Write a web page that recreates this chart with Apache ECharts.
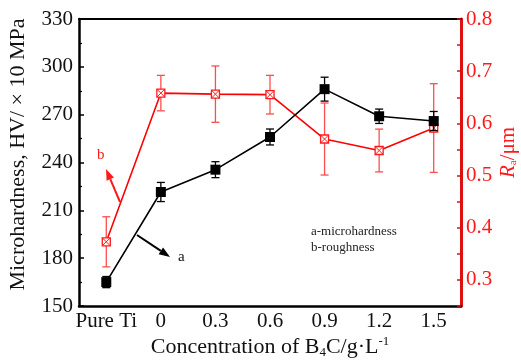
<!DOCTYPE html>
<html>
<head>
<meta charset="utf-8">
<script src="https://cdn.jsdelivr.net/npm/echarts@6/dist/echarts.min.js"></script>
<style>
  html, body { margin: 0; padding: 0; background: #fff; }
  #chart { width: 521px; height: 363px; }
</style>
</head>
<body>
<div id="chart"></div>
<script>
// B4C concentration groups
const categories = ['Pure Ti', '0', '0.3', '0.6', '0.9', '1.2', '1.5'];

// Microhardness (HV / x10 MPa) and its error
const hardness = [165, 221.5, 235.5, 256, 286, 269, 266];
const hardnessErr = [3.5, 6, 5, 5, 7.5, 4.5, 6];

// Surface roughness Ra (µm) and its error
const roughness = [0.373, 0.658, 0.656, 0.655, 0.570, 0.548, 0.591];
const roughnessErr = [0.048, 0.034, 0.054, 0.037, 0.069, 0.041, 0.085];

const FONT = 'Liberation Serif';
const RED = '#ff1a1a';

const chart = echarts.init(document.getElementById('chart'), null, { renderer: 'canvas' });

function errData(vals, errs) {
  return vals.map((v, i) => [i, v, v - errs[i], v + errs[i]]);
}

// error bar with caps plus a marker at the mean
function makeRenderer(opts) {
  return function (params, api) {
    const c = api.coord([api.value(0), api.value(1)]);
    const lo = api.coord([api.value(0), api.value(2)]);
    const hi = api.coord([api.value(0), api.value(3)]);
    const cap = 4;
    const children = [
      { type: 'line', shape: { x1: c[0], y1: lo[1], x2: c[0], y2: hi[1] }, style: { stroke: opts.bar, lineWidth: 1.3 } },
      { type: 'line', shape: { x1: c[0] - cap, y1: lo[1], x2: c[0] + cap, y2: lo[1] }, style: { stroke: opts.bar, lineWidth: 1.3 } },
      { type: 'line', shape: { x1: c[0] - cap, y1: hi[1], x2: c[0] + cap, y2: hi[1] }, style: { stroke: opts.bar, lineWidth: 1.3 } }
    ];
    const s = opts.size / 2;
    if (opts.crossed) {
      children.push(
        { type: 'rect', shape: { x: c[0] - s, y: c[1] - s, width: 2 * s, height: 2 * s }, style: { fill: '#fff', stroke: opts.mark, lineWidth: 1.3 } },
        { type: 'line', shape: { x1: c[0] - s, y1: c[1] - s, x2: c[0] + s, y2: c[1] + s }, style: { stroke: opts.mark, lineWidth: 1 } },
        { type: 'line', shape: { x1: c[0] - s, y1: c[1] + s, x2: c[0] + s, y2: c[1] - s }, style: { stroke: opts.mark, lineWidth: 1 } }
      );
    } else {
      children.push({ type: 'rect', shape: { x: c[0] - s, y: c[1] - s, width: 2 * s, height: 2 * s }, style: { fill: opts.mark } });
    }
    return { type: 'group', children: children };
  };
}

// arrow annotation: shaft + filled head
function arrow(x1, y1, x2, y2, color) {
  const dx = x2 - x1, dy = y2 - y1;
  const len = Math.sqrt(dx * dx + dy * dy);
  const ux = dx / len, uy = dy / len;
  const hl = 11, hw = 4;
  const bx = x2 - hl * ux, by = y2 - hl * uy;
  return [
    { type: 'line', shape: { x1: x1, y1: y1, x2: bx, y2: by }, style: { stroke: color, lineWidth: 2 } },
    { type: 'polygon', shape: { points: [[x2, y2], [bx - hw * uy, by + hw * ux], [bx + hw * uy, by - hw * ux]] }, style: { fill: color } }
  ];
}

const option = {
  animation: false,
  backgroundColor: '#fff',
  grid: { left: 79, right: 60, top: 19, bottom: 57, containLabel: false, outerBoundsMode: 'none' },
  xAxis: [
    {
      type: 'category', data: categories, position: 'bottom', boundaryGap: true,
      axisLine: { lineStyle: { color: '#000', width: 2.5 } },
      axisTick: { inside: true, alignWithLabel: true, length: 5, interval: (i) => i % 2 === 0, lineStyle: { color: '#000', width: 1.5 } },
      axisLabel: { fontFamily: FONT, fontSize: 21, color: '#111', margin: 5, interval: 0 },
      splitLine: { show: false },
      name: 'Concentration of B{sub|4}C/g·L{sup|-1}',
      nameLocation: 'middle', nameGap: 29, nameMoveOverlap: false,
      nameTextStyle: {
        fontFamily: FONT, fontSize: 22, color: '#111', lineHeight: 24,
        rich: {
          sub: { fontFamily: FONT, fontSize: 13, color: '#111', verticalAlign: 'bottom', lineHeight: 18, padding: [6, 0, 0, 0] },
          sup: { fontFamily: FONT, fontSize: 13, color: '#111', verticalAlign: 'top', lineHeight: 14 }
        }
      }
    },
    {
      type: 'category', data: categories, position: 'top', boundaryGap: true,
      axisLine: { lineStyle: { color: '#000', width: 2 } },
      axisTick: { inside: true, alignWithLabel: true, length: 3, lineStyle: { color: '#000', width: 1.2 } },
      axisLabel: { show: false }, splitLine: { show: false }
    },
    {
      type: 'category', data: categories, position: 'bottom', boundaryGap: true,
      axisLine: { show: false },
      axisTick: { inside: true, alignWithLabel: true, length: 3, interval: (i) => i % 2 === 1, lineStyle: { color: '#000', width: 1.2 } },
      axisLabel: { show: false }, splitLine: { show: false }
    }
  ],
  yAxis: [
    {
      type: 'value', position: 'left', min: 150, max: 330, interval: 30,
      axisLine: { show: true, lineStyle: { color: '#000', width: 2.5 } },
      axisTick: { show: true, inside: true, length: 5, lineStyle: { color: '#000', width: 1.5 } },
      minorTick: { show: true, splitNumber: 2, length: 3, lineStyle: { color: '#000', width: 1.2 } },
      axisLabel: { fontFamily: FONT, fontSize: 21, color: '#111', margin: 6 },
      splitLine: { show: false },
      name: 'Microhardness, HV/ × 10 MPa',
      nameLocation: 'middle', nameGap: 50, nameMoveOverlap: false,
      nameTextStyle: { fontFamily: FONT, fontSize: 22, color: '#111', padding: [0, 0, 0, 16] }
    },
    {
      type: 'value', position: 'right', min: 0.25, max: 0.8, interval: 0.05,
      axisLine: { show: true, lineStyle: { color: '#dd1111', width: 3 } },
      axisTick: { show: true, inside: true, length: 4, lineStyle: { color: '#dd1111', width: 1.5 } },
      axisLabel: {
        fontFamily: FONT, fontSize: 21, color: RED, margin: 5,
        formatter: (v) => {
          const k = Math.round(v * 100);
          return k % 10 === 0 ? (k / 100).toFixed(1) : '';
        }
      },
      splitLine: { show: false },
      name: '{it|R}{sub|a}/μm',
      nameLocation: 'middle', nameGap: 36, nameMoveOverlap: false,
      nameTextStyle: {
        fontFamily: FONT, fontSize: 21, color: RED, padding: [0, 0, 0, 20], lineHeight: 22,
        rich: {
          it: { fontFamily: FONT, fontSize: 21, color: RED, fontStyle: 'italic', lineHeight: 22 },
          sub: { fontFamily: FONT, fontSize: 11, color: RED, verticalAlign: 'bottom', lineHeight: 22 }
        }
      }
    }
  ],
  series: [
    {
      name: 'roughness', type: 'line', xAxisIndex: 0, yAxisIndex: 1,
      data: roughness, symbol: 'none',
      lineStyle: { color: '#ff0000', width: 1.6 }, z: 2
    },
    {
      name: 'roughness-err', type: 'custom', xAxisIndex: 0, yAxisIndex: 1,
      data: errData(roughness, roughnessErr),
      renderItem: makeRenderer({ bar: '#ff4d4d', mark: '#ff1a1a', size: 8, crossed: true }),
      z: 3
    },
    {
      name: 'hardness', type: 'line', xAxisIndex: 0, yAxisIndex: 0,
      data: hardness, symbol: 'none',
      lineStyle: { color: '#000', width: 1.6 }, z: 4
    },
    {
      name: 'hardness-err', type: 'custom', xAxisIndex: 0, yAxisIndex: 0,
      data: errData(hardness, hardnessErr),
      renderItem: makeRenderer({ bar: '#000', mark: '#000', size: 10, crossed: false }),
      z: 5
    }
  ],
  graphic: [
    { type: 'text', left: 311, top: 225, style: { text: 'a-microhardness', font: '13px "Liberation Serif"', fill: '#222' } },
    { type: 'text', left: 311, top: 241, style: { text: 'b-roughness', font: '13px "Liberation Serif"', fill: '#222' } },
    { type: 'text', left: 178, top: 250, style: { text: 'a', font: '15px "Liberation Serif"', fill: '#111' } },
    { type: 'text', left: 97, top: 148, style: { text: 'b', font: '15px "Liberation Serif"', fill: '#ff1a1a' } }
  ].concat(arrow(137, 235, 170, 257, '#000'), arrow(120, 202, 106, 169, '#ff1a1a'))
};

chart.setOption(option);
</script>
</body>
</html>
